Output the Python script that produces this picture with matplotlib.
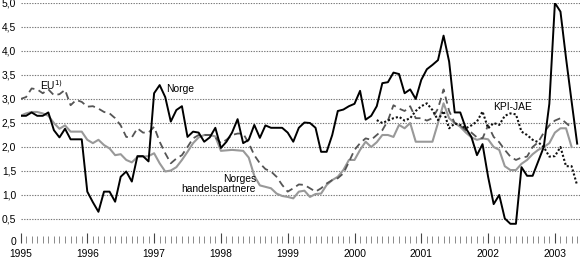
import numpy as np
import matplotlib
matplotlib.use("Agg")
import matplotlib.pyplot as plt
import matplotlib.transforms as mtrans
from matplotlib.ticker import FixedLocator, FuncFormatter

# Monthly data, Jan 1995 .. May 2003 (12-month rise in consumer prices, %)
start_year = 1995
norge = [2.65, 2.65, 2.72, 2.65, 2.65, 2.72, 2.35, 2.2, 2.38, 2.16, 2.16, 2.16,
         1.07, 0.85, 0.65, 1.07, 1.07, 0.86, 1.38, 1.49, 1.28, 1.81, 1.81, 1.7,
         3.12, 3.29, 3.04, 2.53, 2.77, 2.85, 2.21, 2.32, 2.3, 2.11, 2.2, 2.4,
         1.98, 2.11, 2.3, 2.58, 2.08, 2.15, 2.46, 2.19, 2.45, 2.4, 2.4, 2.4,
         2.3, 2.11, 2.4, 2.51, 2.5, 2.4, 1.9, 1.9, 2.25, 2.75, 2.78, 2.85,
         2.9, 3.17, 2.57, 2.65, 2.85, 3.33, 3.35, 3.55, 3.52, 3.12, 3.2, 3.0,
         3.4, 3.62, 3.71, 3.81, 4.32, 3.78, 2.72, 2.72, 2.39, 2.21, 1.83, 2.06,
         1.38, 0.81, 1.0, 0.51, 0.4, 0.4, 1.58, 1.4, 1.4, 1.7, 2.0, 2.9,
         5.0, 4.82, 3.85, 2.95, 2.07]
partnere = [2.65, 2.7, 2.73, 2.73, 2.7, 2.65, 2.5, 2.38, 2.45, 2.32, 2.32, 2.32,
            2.15, 2.08, 2.15, 2.04, 1.97, 1.83, 1.85, 1.73, 1.68, 1.79, 1.8, 1.81,
            1.87, 1.66, 1.49, 1.51, 1.58, 1.73, 1.9, 2.08, 2.2, 2.25, 2.25, 2.22,
            1.92, 1.93, 1.94, 1.93, 1.92, 1.78, 1.4, 1.2, 1.17, 1.14, 1.03, 0.98,
            0.96, 0.93, 1.07, 1.09, 0.96, 1.02, 1.03, 1.21, 1.31, 1.38, 1.52, 1.73,
            1.73, 1.94, 2.11, 2.0, 2.1, 2.25, 2.25, 2.21, 2.46, 2.39, 2.5, 2.11,
            2.11, 2.11, 2.11, 2.5, 2.91, 2.6, 2.5, 2.42, 2.3, 2.2, 2.15, 2.18,
            2.16, 2.0, 1.94, 1.6, 1.52, 1.52, 1.65, 1.73, 1.85, 1.94, 2.0, 2.08,
            2.3, 2.39, 2.39, 2.0, np.nan]
eu = [3.0, 3.04, 3.22, 3.2, 3.12, 3.2, 3.08, 3.1, 3.19, 2.87, 2.98, 2.94,
      2.84, 2.85, 2.8, 2.73, 2.7, 2.6, 2.45, 2.21, 2.2, 2.39, 2.3, 2.3,
      2.42, 2.11, 1.87, 1.66, 1.76, 1.83, 2.0, 2.18, 2.25, 2.25, 2.25, 2.2,
      2.08, 2.15, 2.25, 2.28, 2.28, 2.08, 1.83, 1.66, 1.54, 1.49, 1.38, 1.21,
      1.07, 1.14, 1.22, 1.21, 1.14, 1.07, 1.14, 1.24, 1.31, 1.35, 1.45, 1.69,
      1.94, 2.08, 2.18, 2.15, 2.25, 2.35, 2.55, 2.87, 2.8, 2.75, 2.85, 2.6,
      2.6, 2.55, 2.6, 2.8, 3.2, 2.75, 2.5, 2.45, 2.35, 2.3, 2.2, 2.18,
      2.45, 2.21, 2.1, 1.94, 1.8, 1.73, 1.78, 1.8, 2.0, 2.1, 2.3, 2.45,
      2.55, 2.6, 2.5, 2.4, np.nan]
kpi_jae = [np.nan] * 64 + [
      2.56, 2.5, 2.55, 2.6, 2.63, 2.55, 2.6, 2.75, 2.85, 2.91, 2.77, 2.56,
      2.75, 2.39, 2.49, 2.46, 2.39, 2.45, 2.53, 2.74, 2.39, 2.5, 2.46, 2.65,
      2.7, 2.68, 2.32, 2.25, 2.15, 2.1, 2.0, 1.8, 1.81, 2.0, 1.6, 1.6, 1.2]

year_labels = ["1995", "1996", "1997", "1998", "1999", "2000", "2001", "2002", "2003"]
y_ticks = [0, 0.5, 1.0, 1.5, 2.0, 2.5, 3.0, 3.5, 4.0, 4.5, 5.0]

plt.rcParams['font.family'] = ['Liberation Sans', 'DejaVu Sans']
FS = 7.4

fig = plt.figure(figsize=(5.8, 2.59), dpi=100)
ax = fig.add_axes([20.5 / 580, 1 - 243 / 259, 1 - 20.5 / 580, 240 / 259])

t = start_year + np.arange(len(norge)) / 12.0

for v in y_ticks[1:]:
    ax.axhline(v, color='#777777', lw=0.8, ls=(0, (1.2, 1.2)), zorder=0)

ax.plot(t, partnere, color='#999999', lw=1.5, zorder=2)
ax.plot(t, eu, color='#555555', lw=1.3, ls=(0, (4, 2.5)), zorder=3)
ax.plot(t, kpi_jae, color='#111111', lw=1.5, ls=(0, (1, 1)), zorder=4)
ax.plot(t, norge, color='#000000', lw=1.4, zorder=5)

ax.set_xlim(1995, 1995 + (580 - 20.5) / 66.8)
ax.set_ylim(0, 5.0)
for s in ax.spines.values():
    s.set_visible(False)

ax.xaxis.set_major_locator(FixedLocator(np.arange(1995, 2004)))
ax.xaxis.set_minor_locator(FixedLocator(1995 + np.arange(0, 101) / 12.0))
ax.set_xticklabels(year_labels)
ax.tick_params(axis='x', which='major', direction='in', length=7, width=0.8,
               color='#444444', labelsize=FS, pad=4)
ax.tick_params(axis='x', which='minor', direction='in', length=5, width=0.6,
               color='#777777')
ax.set_yticks(y_ticks)
ax.yaxis.set_major_formatter(FuncFormatter(lambda v, p: "0" if v == 0 else f"{v:.1f}".replace('.', ',')))
ax.tick_params(axis='y', length=0, labelsize=FS, pad=3)

fig.canvas.draw()
lab0 = ax.get_yticklabels()[0]
lab0.set_transform(lab0.get_transform() + mtrans.ScaledTranslation(0, 2 / 100, fig.dpi_scale_trans))

ax.text(1995 + (40 - 20.5) / 66.8, 3.3, r"EU$^{1)}$", fontsize=FS, ha='left', va='center')
ax.text(1995 + (166 - 20.5) / 66.8, (243 - 89) / 48, "Norge", fontsize=FS, ha='left', va='center')
ax.text(1995 + (256 - 20.5) / 66.8, (243 - 184) / 48, "Norges\nhandelspartnere", fontsize=FS,
        ha='right', va='center', linespacing=1.1)
ax.text(1995 + (493 - 20.5) / 66.8, (243 - 107) / 48, "KPI-JAE", fontsize=FS, ha='left', va='center')

fig.savefig("out.png", dpi=100)
